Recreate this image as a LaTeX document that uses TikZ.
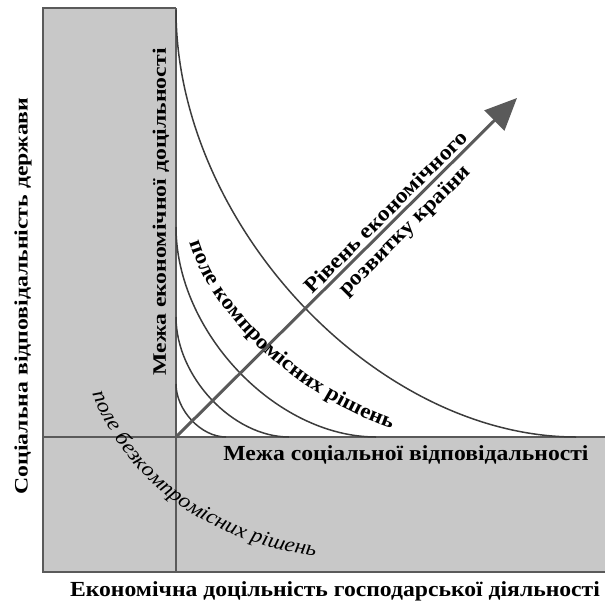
\documentclass[tikz,border=0pt]{standalone}
\usepackage{fontspec}
\setmainfont{Liberation Serif}[FakeStretch=1.1]
\newfontfamily\tallfont{Liberation Serif}[FakeStretch=1.25]
\usetikzlibrary{arrows.meta,positioning,decorations.text}
\definecolor{zonecolor}{RGB}{200,200,200}
\definecolor{linecolor}{RGB}{90,90,90}
\definecolor{curvecolor}{RGB}{60,60,60}

\begin{document}
\begin{tikzpicture}[
    x=1pt, y=-1pt,
    axis/.style={linecolor, line width=2pt},
    border/.style={linecolor, line width=1.2pt},
    bound/.style={curvecolor, line width=1.5pt},
    lbl/.style={font=\bfseries\fontsize{21.5}{21.5}\selectfont, inner sep=0pt},
    vlbl/.style={font=\tallfont\bfseries\fontsize{19}{19}\selectfont, inner sep=0pt, rotate=90},
    arrowlbl/.style={font=\bfseries\fontsize{21.5}{21.5}\selectfont, text=black, inner sep=0pt, sloped},
    arrow/.style={-{Triangle[length=32pt,width=28pt]}, linecolor, line width=3pt}
]
\useasboundingbox (0,0) rectangle (605,603);

% shaded zones
\fill[zonecolor] (43,8) rectangle (176,572);
\fill[zonecolor] (176,437) rectangle (605,572);
\draw[border] (176,8) -- (43,8) -- (43,572) -- (605,572);
\draw[axis] (176,8) -- (176,572);
\draw[axis] (43,437) -- (605,437);

\coordinate (O) at (176,437);
\coordinate (tip) at (517,98);

% level curves
\draw[bound] (176,10) .. controls (176,224) and (376,437) .. (576,437);
\draw[bound] (176,227) .. controls (176,332) and (276,437) .. (376,437);
\draw[bound] (176,317) .. controls (176,377) and (233,437) .. (289,437);
\draw[bound] (176,384) .. controls (176,410) and (201,437) .. (226,437);

\draw[arrow] (O) -- node[arrowlbl, pos=0.64, above=3pt] (lvltop) {Рівень економічного}
                    node[arrowlbl, pos=0.64, below=5pt] (lvlbot) {розвитку країни} (tip);

% axis labels
\node[vlbl] (ylab) at (23,296) {Соціальна відповідальність держави};
\node[lbl] (xlab) at (335,591) {Економічна доцільність господарської діяльності};
\node[vlbl] (vlab) at (161,212) {Межа економічної доцільності};
\node[lbl] (hlab) at (406,455) {Межа соціальної відповідальності};

% curved field labels
\path[decorate, decoration={text along path, text align=center,
    text={|\bfseries\fontsize{21}{21}\selectfont|поле компромісних рішень}}]
    (186,226) .. controls (199,300) and (285,397) .. (408,434);
\path[decorate, decoration={text along path, text align=center,
    text={|\itshape\fontsize{21}{21}\selectfont|поле безкомпромісних рішень}}]
    (86,374) .. controls (113,470) and (200,548) .. (336,558);
\end{tikzpicture}
\end{document}
